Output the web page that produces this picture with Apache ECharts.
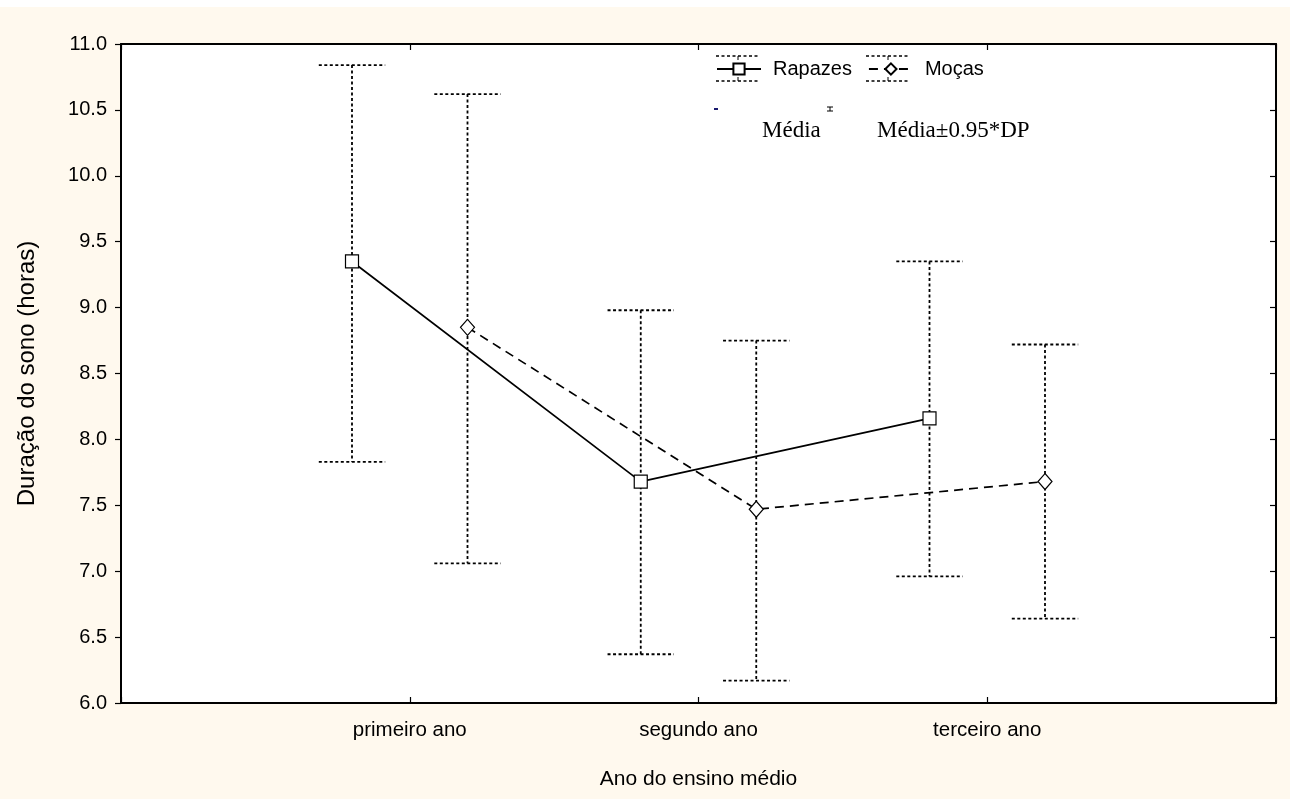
<!DOCTYPE html>
<html>
<head>
<meta charset="utf-8">
<script src="https://cdn.jsdelivr.net/npm/echarts@6/dist/echarts.min.js"></script>
<style>
  html, body { margin: 0; padding: 0; background: #ffffff; }
  #chart { width: 1293px; height: 799px; }
</style>
</head>
<body>
<div id="chart"></div>
<script>
// Anos do ensino médio (eixo X)
const categories = ['primeiro ano', 'segundo ano', 'terceiro ano'];

// Rapazes: média e limites Média±0.95*DP
const rapazesMedia = [9.35, 7.68, 8.16];
const rapazesSup = [10.84, 8.98, 9.35];
const rapazesInf = [7.83, 6.37, 6.96];

// Moças: média e limites Média±0.95*DP
const mocasMedia = [8.85, 7.47, 7.68];
const mocasSup = [10.62, 8.75, 8.72];
const mocasInf = [7.06, 6.17, 6.64];

// Eixo Y
const yMin = 6, yMax = 11, yStep = 0.5;

const FONT = "'Liberation Sans', Arial, sans-serif";
const SERIF = "'Liberation Serif', 'Times New Roman', serif";
const OFFSET = 0.2; // deslocamento horizontal de cada grupo em relação à categoria

function pontos(medias, desloc) {
  return medias.map((m, i) => [i + 1 + desloc, m]);
}
function barras(inf, sup, desloc) {
  return inf.map((lo, i) => [i + 1 + desloc, lo, sup[i]]);
}

function renderErrorBar(params, api) {
  const x = api.value(0);
  const top = api.coord([x, api.value(2)]);
  const bot = api.coord([x, api.value(1)]);
  const half = api.size([0.115, 0])[0];
  const style = { stroke: '#000', lineWidth: 1.8, lineDash: [3, 2.5], fill: null };
  return {
    type: 'group',
    children: [
      { type: 'line', shape: { x1: top[0], y1: top[1], x2: bot[0], y2: bot[1] }, style },
      { type: 'line', shape: { x1: top[0] - half, y1: top[1], x2: top[0] + half, y2: top[1] }, style },
      { type: 'line', shape: { x1: bot[0] - half, y1: bot[1], x2: bot[0] + half, y2: bot[1] }, style }
    ]
  };
}

const chart = echarts.init(document.getElementById('chart'), null, { renderer: 'canvas' });

const dotted = { stroke: '#000', lineWidth: 1.5, lineDash: [3, 2.5] };

chart.setOption({
  backgroundColor: '#ffffff',
  animation: false,
  grid: {
    left: 121, right: 17, top: 44, bottom: 96,
    show: true, backgroundColor: '#ffffff', borderColor: '#000', borderWidth: 0
  },
  legend: {
    left: 716, top: 59, padding: 0,
    itemWidth: 44, itemHeight: 14, itemGap: 16,
    textStyle: { fontFamily: FONT, fontSize: 20, color: '#000', padding: [0, 0, 0, 7] },
    data: [
      { name: 'Rapazes' },
      { name: 'Moças' }
    ]
  },
  graphic: [
    // fundo creme ao redor da área do gráfico
    { type: 'rect', z: -10, silent: true, shape: { x: 0, y: 7, width: 1290, height: 792 }, style: { fill: '#fff9ee' } },
    { type: 'rect', z: -9, silent: true, shape: { x: 121, y: 44, width: 1155, height: 659 }, style: { fill: '#ffffff' } },
    // linhas pontilhadas dos ícones da legenda
    { type: 'line', shape: { x1: 716, y1: 56, x2: 760, y2: 56 }, style: dotted },
    { type: 'line', shape: { x1: 716, y1: 81, x2: 760, y2: 81 }, style: dotted },
    { type: 'line', shape: { x1: 866, y1: 56, x2: 910, y2: 56 }, style: dotted },
    { type: 'line', shape: { x1: 866, y1: 81, x2: 910, y2: 81 }, style: dotted },
    { type: 'line', shape: { x1: 738, y1: 56, x2: 738, y2: 60 }, style: { stroke: '#000', lineWidth: 1 } },
    { type: 'line', shape: { x1: 738, y1: 77, x2: 738, y2: 81 }, style: { stroke: '#000', lineWidth: 1 } },
    { type: 'line', shape: { x1: 888, y1: 56, x2: 888, y2: 60 }, style: { stroke: '#000', lineWidth: 1 } },
    { type: 'line', shape: { x1: 888, y1: 77, x2: 888, y2: 81 }, style: { stroke: '#000', lineWidth: 1 } },
    // segunda linha da legenda
    { type: 'rect', shape: { x: 714, y: 108, width: 4, height: 2 }, style: { fill: '#1a1a6e' } },
    { type: 'text', style: { x: 762, y: 131, text: 'Média', font: '23px ' + SERIF, fill: '#000', verticalAlign: 'middle' } },
    { type: 'line', shape: { x1: 827, y1: 107, x2: 833, y2: 107 }, style: { stroke: '#000', lineWidth: 1 } },
    { type: 'line', shape: { x1: 827, y1: 111, x2: 833, y2: 111 }, style: { stroke: '#000', lineWidth: 1 } },
    { type: 'line', shape: { x1: 830, y1: 107, x2: 830, y2: 111 }, style: { stroke: '#000', lineWidth: 1 } },
    { type: 'text', style: { x: 877, y: 131, text: 'Média±0.95*DP', font: '23px ' + SERIF, fill: '#000', verticalAlign: 'middle' } }
  ],
  xAxis: [
    {
      type: 'value', position: 'bottom', min: 0, max: categories.length + 1, interval: 1,
      name: 'Ano do ensino médio', nameLocation: 'middle', nameGap: 66,
      nameTextStyle: { fontFamily: FONT, fontSize: 21, color: '#000' },
      axisLine: { show: true, onZero: false, lineStyle: { color: '#000', width: 2 } },
      axisTick: { show: true, inside: true, length: 6, lineStyle: { color: '#000', width: 1.2 } },
      axisLabel: {
        fontFamily: FONT, fontSize: 20.5, color: '#000', margin: 17,
        formatter: v => categories[v - 1] || ''
      },
      splitLine: { show: false }
    },
    {
      type: 'value', position: 'top', min: 0, max: categories.length + 1, interval: 1,
      axisLine: { show: true, onZero: false, lineStyle: { color: '#000', width: 2 } },
      axisTick: { show: true, inside: true, length: 6, lineStyle: { color: '#000', width: 1.2 } },
      axisLabel: { show: false },
      splitLine: { show: false }
    }
  ],
  yAxis: [
    {
      type: 'value', position: 'left', min: yMin, max: yMax, interval: yStep,
      name: 'Duração do sono (horas)', nameLocation: 'middle', nameGap: 82,
      nameTextStyle: { fontFamily: FONT, fontSize: 24, color: '#000' },
      axisLine: { show: true, onZero: false, lineStyle: { color: '#000', width: 2 } },
      axisTick: { show: true, inside: false, length: 6, lineStyle: { color: '#000', width: 1.2 } },
      axisLabel: { fontFamily: FONT, fontSize: 20, color: '#000', margin: 14, formatter: v => v.toFixed(1) },
      splitLine: { show: false }
    },
    {
      type: 'value', position: 'right', min: yMin, max: yMax, interval: yStep,
      axisLine: { show: true, onZero: false, lineStyle: { color: '#000', width: 2 } },
      axisTick: { show: true, inside: true, length: 6, lineStyle: { color: '#000', width: 1.2 } },
      axisLabel: { show: false },
      splitLine: { show: false }
    }
  ],
  series: [
    {
      name: 'Rapazes DP', type: 'custom', xAxisIndex: 0, yAxisIndex: 0, z: 1,
      renderItem: renderErrorBar, data: barras(rapazesInf, rapazesSup, -OFFSET), silent: true
    },
    {
      name: 'Moças DP', type: 'custom', xAxisIndex: 0, yAxisIndex: 0, z: 1,
      renderItem: renderErrorBar, data: barras(mocasInf, mocasSup, OFFSET), silent: true
    },
    {
      name: 'Rapazes', type: 'line', xAxisIndex: 0, yAxisIndex: 0, z: 3,
      data: pontos(rapazesMedia, -OFFSET),
      symbol: 'rect', symbolSize: 13,
      lineStyle: { color: '#000', width: 1.7, type: 'solid' },
      itemStyle: { color: '#ffffff', borderColor: '#000', borderWidth: 1.2 }
    },
    {
      name: 'Moças', type: 'line', xAxisIndex: 0, yAxisIndex: 0, z: 3,
      data: pontos(mocasMedia, OFFSET),
      symbol: 'diamond', symbolSize: [14, 16],
      lineStyle: { color: '#000', width: 1.7, type: [9, 6] },
      itemStyle: { color: '#ffffff', borderColor: '#000', borderWidth: 1.2 }
    }
  ]
});
</script>
</body>
</html>
